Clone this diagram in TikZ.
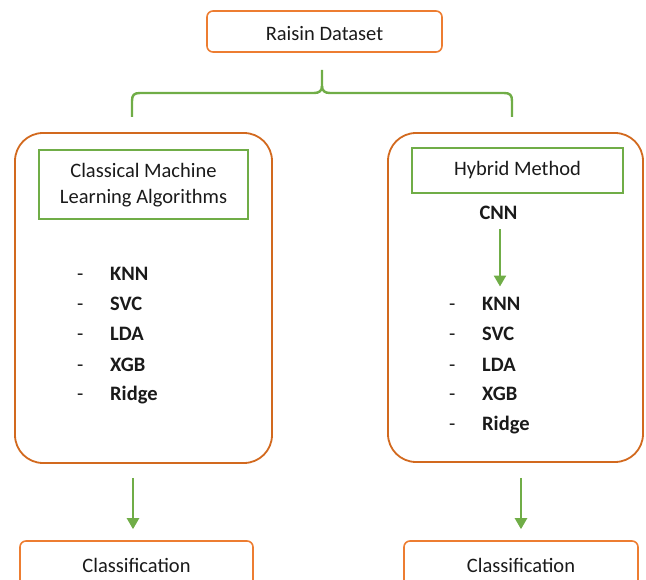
\documentclass[tikz,border=0pt]{standalone}
\usepackage{fontspec}
\setmainfont{Carlito}
\usetikzlibrary{arrows.meta}
\definecolor{obox}{HTML}{ED7D31}
\definecolor{obig}{HTML}{D2691E}
\definecolor{gbox}{HTML}{70AD47}
\definecolor{txt}{HTML}{1A1A1A}
\begin{document}
\begin{tikzpicture}[x=1pt,y=-1pt,
  every node/.style={text=txt,font=\fontsize{20.5}{26}\selectfont},
  smallbox/.style={draw=obox,line width=1.6pt,rounded corners=6pt,inner sep=0pt},
  bigbox/.style={draw=obig,line width=1.8pt,rounded corners=28pt,inner sep=0pt},
  titlebox/.style={draw=gbox,line width=1.6pt,inner sep=0pt,align=center},
  item/.style={anchor=base west,inner sep=0pt,font=\fontsize{20.5}{26}\selectfont\bfseries},
  dashmark/.style={anchor=base west,inner sep=0pt},
  arr/.style={draw=gbox,line width=2.3pt,-{Triangle[width=12pt,length=11pt]}},
  bracestyle/.style={draw=gbox,line width=2.4pt}
]
\useasboundingbox (0,0) rectangle (646,580);
\clip (0,0) rectangle (646,580);

% top box
\node[smallbox,minimum width=235pt,minimum height=41pt] (top) at (324.5,31.5) {};
\node[anchor=base,inner sep=0pt] (toptxt) at (324.5,40.5) {Raisin Dataset};

% brace
\coordinate (bl) at (132,117);
\coordinate (br) at (512,117);
\coordinate (bm) at (322,70);
\draw[bracestyle] (bl) -- (132,101) .. controls (132,95) and (134,93) .. (140,93)
  -- (314,93) .. controls (319,93) and (322,91) .. (322,86) -- (bm);
\draw[bracestyle] (br) -- (512,101) .. controls (512,95) and (510,93) .. (504,93)
  -- (330,93) .. controls (325,93) and (322,91) .. (322,86);

% left big box
\node[bigbox,minimum width=257pt,minimum height=330pt] (L) at (143.5,298) {};
\node[titlebox,minimum width=209pt,minimum height=69pt] (Lt) at (143.5,184.5) {};
\node[anchor=base,inner sep=0pt] (Lt1) at (143.5,177.5) {Classical Machine};
\node[anchor=base,inner sep=0pt] (Lt2) at (143.5,203.5) {Learning Algorithms};
\foreach \n/\t [count=\i from 0] in {a/KNN,b/SVC,c/LDA,d/XGB,e/Ridge}{
  \node[dashmark] (Ld\n) at (77,281+30*\i) {-};
  \node[item] (Li\n) at (110,281+30*\i) {\t};
}

% right big box
\node[bigbox,minimum width=255pt,minimum height=329pt] (R) at (515.5,297.5) {};
\node[titlebox,minimum width=211pt,minimum height=45pt] (Rt) at (517.5,170.5) {};
\node[anchor=base,inner sep=0pt] (Rt1) at (517.5,176) {Hybrid Method};
\node[anchor=base,inner sep=0pt,font=\fontsize{20.5}{26}\selectfont\bfseries] (cnn) at (498.5,220) {CNN};
\foreach \n/\t [count=\i from 0] in {a/KNN,b/SVC,c/LDA,d/XGB,e/Ridge}{
  \node[dashmark] (Rd\n) at (449,311+30*\i) {-};
  \node[item] (Ri\n) at (482,311+30*\i) {\t};
}
\draw[arr] ([xshift=1.5pt,yshift=-9pt]cnn.south) -- ([xshift=18pt,yshift=11pt]Ria.north west);

% bottom boxes
\node[smallbox,minimum width=233pt,minimum height=50pt] (C1) at (136.5,566) {};
\node[anchor=base,inner sep=0pt] (C1t) at (136.5,572) {Classification};
\node[smallbox,minimum width=234pt,minimum height=50pt] (C2) at (521,566) {};
\node[anchor=base,inner sep=0pt] (C2t) at (521,572) {Classification};

\draw[arr] ([xshift=-10.5pt,yshift=-14pt]L.south) -- ([xshift=-3.5pt,yshift=11pt]C1.north);
\draw[arr] ([xshift=5.5pt,yshift=-15pt]R.south) -- ([yshift=11pt]C2.north);
\end{tikzpicture}
\end{document}
